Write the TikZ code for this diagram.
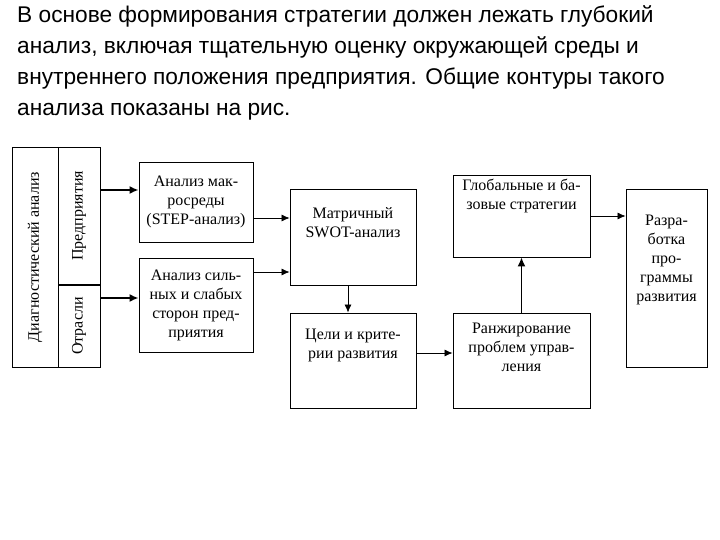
\documentclass[tikz,border=0pt]{standalone}
\usepackage{fontspec}
\setmainfont{Liberation Serif}
\newfontfamily\hdr{Liberation Sans}
\usetikzlibrary{arrows.meta}
\begin{document}
\begin{tikzpicture}[x=1pt,y=-1pt,
  bx/.style={draw,line width=0.8pt,align=center,font=\fontsize{16}{19}\selectfont,inner sep=0pt},
  ar/.style={-{Latex[length=8pt,width=7pt]},line width=0.7pt},
  tar/.style={-{Latex[length=9pt,width=8pt]},line width=1.8pt}]
\useasboundingbox (0,0) rectangle (720,540);
\node[anchor=north west,align=left,inner sep=0pt,font=\hdr\fontsize{22.7}{31}\selectfont] (hd) at (17,5)
{В основе формирования стратегии должен лежать глубокий\\анализ, включая тщательную оценку окружающей среды и\\внутреннего положения предприятия. Общие контуры такого\\анализа показаны на рис.};
% left box
\draw[line width=0.8pt] (12,147) rectangle (100,367);
\draw[line width=0.8pt] (58,147) -- (58,367);
\draw[line width=1.2pt] (58,285) -- (100,285);
\node[rotate=90,font=\fontsize{16}{17}\selectfont] (diag) at (35,257) {Диагностический анализ};
\node[rotate=90,font=\fontsize{16}{17}\selectfont] (pred) at (79,216) {Предприятия};
\coordinate (p1) at (100,190);
\coordinate (p2) at (100,298);
\node[rotate=90,font=\fontsize{16}{17}\selectfont] (otr) at (79,326) {Отрасли};
\node[bx,minimum width=114pt,minimum height=80pt] (a) at (196,202) {Анализ мак-\\росреды\\(STEP-анализ)};
\node[bx,minimum width=114pt,minimum height=94pt] (b) at (196,305) {Анализ силь-\\ных и слабых\\сторон пред-\\приятия};
\node[bx,minimum width=126pt,minimum height=96pt] (s) at (353,237) {Матричный\\SWOT-анализ\\[10pt]};
\node[bx,minimum width=126pt,minimum height=95pt] (c) at (353,360.5) {Цели и крите-\\рии развития\\[14pt]};
\node[bx,minimum width=137pt,minimum height=82pt] (g) at (521.5,216) {Глобальные и ба-\\зовые стратегии\\[24pt]};
\draw[line width=1.6pt] (g.south west) -- (g.south east);
\node[bx,minimum width=137pt,minimum height=95pt] (r) at (521.5,360.5) {Ранжирование\\проблем управ-\\ления\\[8pt]};
\node[bx,minimum width=81pt,minimum height=178pt] (d) at (666.5,278) {Разра-\\ботка\\про-\\граммы\\развития\\[20pt]};
\draw[tar] (p1) -- (a.west|-p1);
\draw[tar] (p2) -- (b.west|-p2);
\draw[ar] (a.east|-0,218) -- (s.west|-0,218);
\draw[ar] (b.east|-0,272) -- (s.west|-0,272);
\draw[ar] (s.south-|348,0) -- (c.north-|348,0);
\draw[ar] (c.east|-0,353) -- (r.west|-0,353);
\draw[-{Latex[length=9pt,width=8pt]},line width=1.4pt] (r.north) -- (g.south);
\draw[ar] (g.east|-0,216) -- (d.west|-0,216);
\end{tikzpicture}
\end{document}
